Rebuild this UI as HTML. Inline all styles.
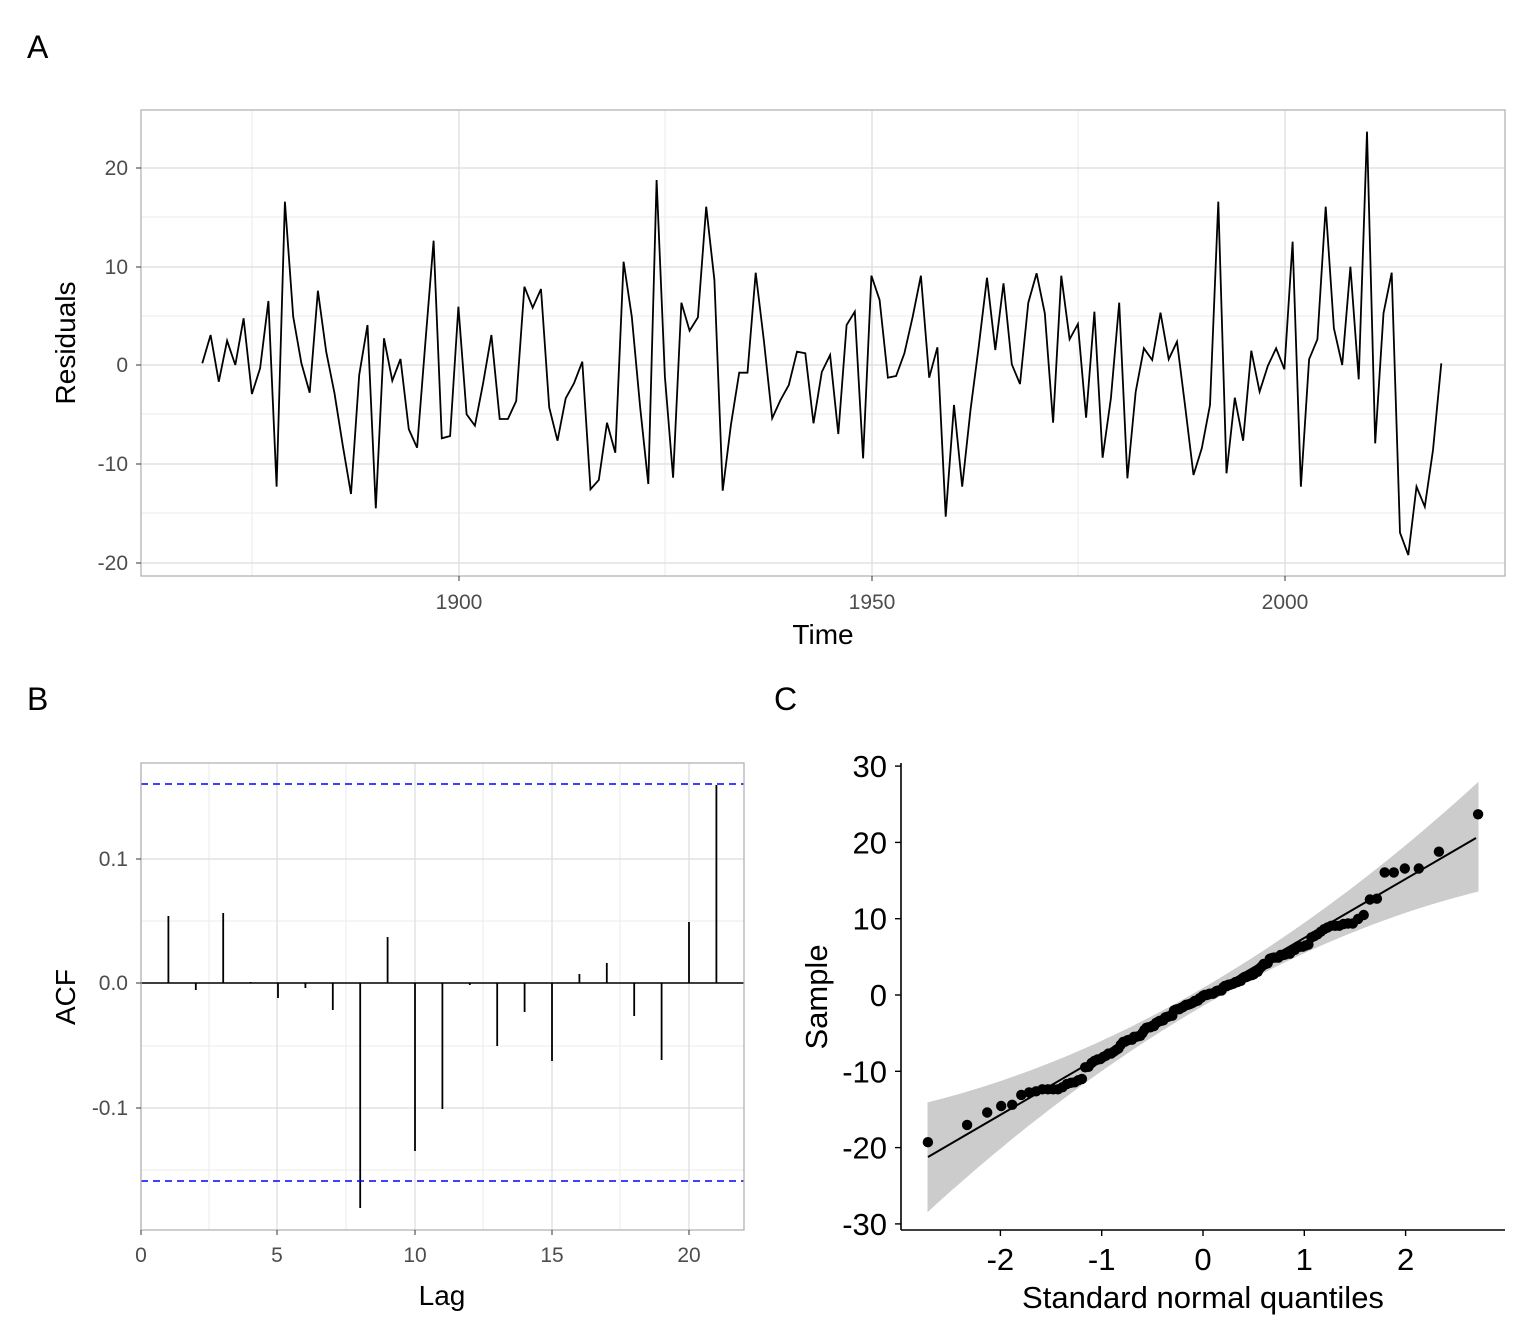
<!DOCTYPE html>
<html><head><meta charset="utf-8"><style>
html,body{margin:0;padding:0;background:#fff}
svg{display:block;font-family:"Liberation Sans",Arial,sans-serif}
</style></head><body>
<svg id="s" width="1536" height="1344" viewBox="0 0 1536 1344" xmlns="http://www.w3.org/2000/svg">
<rect width="1536" height="1344" fill="#fff"/>
<text x="27" y="58" font-size="32">A</text>
<text x="27" y="710" font-size="32">B</text>
<text x="774" y="710" font-size="32">C</text>
<g id="A"></g><g id="B"></g><g id="C"></g>
</svg>
<script>
const NS="http://www.w3.org/2000/svg";
function el(p,t,a,txt){const e=document.createElementNS(NS,t);for(const k in a)e.setAttribute(k,a[k]);if(txt!==undefined)e.textContent=txt;p.appendChild(e);return e;}
const A=document.getElementById('A');
const ys=[363.3,335,381.7,340.7,365,318.3,394,368.3,301,486.7,201.7,316.7,363.3,392.7,290.7,351.7,393.3,445,494,375,325,508.3,338.3,380.7,359,429.3,447.7,343.3,240.7,438.3,436,306.7,414.3,425.7,383.3,335,419,419,
401,286.7,307.7,289,407.3,440.7,398.3,383.3,361.7,489.3,480,422.7,452.7,261.7,316.7,406.7,484,180,376.7,477.7,302.7,330.7,317.3,206.7,280,490.7,425,372.7,372.7,272.7,341.7,418.3,400,385,351.7,353.3,423.3,372,
355,434,325,311.7,458.3,275.7,300,377.7,376,353.3,316.7,275.7,377.7,347.3,516.7,405,486.7,410,346.7,277.7,350,283.3,364.3,384,302.7,273.3,313.3,422.7,275.7,339.3,324,417.7,311.7,457.7,398.3,302.7,478.3,
391.7,348.3,360,312.7,359.3,341.7,406.7,475,448.3,405,201.7,473.3,397.7,440.7,350.7,391.7,366,348.3,369.3,241.7,486.7,359.3,339.3,206.7,328.3,365,266.7,379.3,131.7,443.3,313.3,272.7,532.7,555,486.7,506.7,450,363.3];
[217,316,414,513].forEach(y=>el(A,'line',{x1:141,x2:1505,y1:y,y2:y,stroke:'#ebebeb','stroke-width':1}));
[252,665,1078].forEach(x=>el(A,'line',{x1:x,x2:x,y1:110,y2:576,stroke:'#ebebeb','stroke-width':1}));
[168,267,365,464,563].forEach(y=>el(A,'line',{x1:141,x2:1505,y1:y,y2:y,stroke:'#dcdcdc','stroke-width':1.2}));
[459,872,1285].forEach(x=>el(A,'line',{x1:x,x2:x,y1:110,y2:576,stroke:'#dcdcdc','stroke-width':1.2}));
el(A,'polyline',{points:ys.map((y,i)=>(202.3+i*8.26).toFixed(1)+','+y).join(' '),fill:'none',stroke:'#000','stroke-width':1.8});
el(A,'rect',{x:141,y:110,width:1364,height:466,fill:'none',stroke:'#b3b3b3','stroke-width':1.3});
[[168,'20'],[267,'10'],[365,'0'],[464,'-10'],[563,'-20']].forEach(([y,t])=>{el(A,'text',{x:128,y:y+7,'font-size':21,fill:'#4d4d4d','text-anchor':'end'},t);el(A,'line',{x1:136,x2:141,y1:y,y2:y,stroke:'#333'});});
[[459,'1900'],[872,'1950'],[1285,'2000']].forEach(([x,t])=>{el(A,'text',{x:x,y:609,'font-size':21,fill:'#4d4d4d','text-anchor':'middle'},t);el(A,'line',{x1:x,x2:x,y1:576,y2:581,stroke:'#333'});});
el(A,'text',{x:823,y:644,'font-size':28,'text-anchor':'middle'},'Time');
el(A,'text',{x:0,y:0,'font-size':28,'text-anchor':'middle',transform:'translate(75,343) rotate(-90)'},'Residuals');
const B=document.getElementById('B');
[921,1046,1170].forEach(y=>el(B,'line',{x1:141,x2:744,y1:y,y2:y,stroke:'#ebebeb'}));
[209,346,483,620].forEach(x=>el(B,'line',{x1:x,x2:x,y1:763,y2:1230,stroke:'#ebebeb'}));
[859,983,1108].forEach(y=>el(B,'line',{x1:141,x2:744,y1:y,y2:y,stroke:'#dcdcdc','stroke-width':1.2}));
[141,277,415,552,689].forEach(x=>el(B,'line',{x1:x,x2:x,y1:763,y2:1230,stroke:'#dcdcdc','stroke-width':1.2}));
el(B,'line',{x1:141,x2:744,y1:983,y2:983,stroke:'#000','stroke-width':1.6});
const acf=[916,990,913,982,998,988,1010,1208,937,1151,1109,985,1046,1012,1061,974,963,1016,1060,922,785];
acf.forEach((y,i)=>{const x=141+(i+1)*27.4;el(B,'line',{x1:x,x2:x,y1:983,y2:y,stroke:'#000','stroke-width':1.8});});
[784,1181].forEach(y=>el(B,'line',{x1:141,x2:744,y1:y,y2:y,stroke:'#0000ff','stroke-width':1.6,'stroke-dasharray':'7,5'}));
el(B,'rect',{x:141,y:763,width:603,height:467,fill:'none',stroke:'#b3b3b3','stroke-width':1.3});
[[859,'0.1'],[983,'0.0'],[1108,'-0.1']].forEach(([y,t])=>{el(B,'text',{x:128,y:y+7,'font-size':21,fill:'#4d4d4d','text-anchor':'end'},t);el(B,'line',{x1:136,x2:141,y1:y,y2:y,stroke:'#333'});});
[[141,'0'],[277,'5'],[415,'10'],[552,'15'],[689,'20']].forEach(([x,t])=>{el(B,'text',{x:x,y:1262,'font-size':21,fill:'#4d4d4d','text-anchor':'middle'},t);el(B,'line',{x1:x,x2:x,y1:1230,y2:1235,stroke:'#333'});});
el(B,'text',{x:442,y:1305,'font-size':28,'text-anchor':'middle'},'Lag');
el(B,'text',{x:0,y:0,'font-size':28,'text-anchor':'middle',transform:'translate(75,997) rotate(-90)'},'ACF');
const C=document.getElementById('C');
function qnorm(p){const a=[-39.69683028665376,220.9460984245205,-275.9285104469687,138.357751867269,-30.66479806614716,2.506628277459239],b=[-54.47609879822406,161.5858368580409,-155.6989798598866,66.80131188771972,-13.28068155288572],c=[-0.007784894002430293,-0.3223964580411365,-2.400758277161838,-2.549732539343734,4.374664141464968,2.938163982698783],d=[0.007784695709041462,0.3224671290700398,2.445134137142996,3.754408661907416];const pl=0.02425;let q,r;if(p<pl){q=Math.sqrt(-2*Math.log(p));return(((((c[0]*q+c[1])*q+c[2])*q+c[3])*q+c[4])*q+c[5])/((((d[0]*q+d[1])*q+d[2])*q+d[3])*q+1);}if(p>1-pl){q=Math.sqrt(-2*Math.log(1-p));return-(((((c[0]*q+c[1])*q+c[2])*q+c[3])*q+c[4])*q+c[5])/((((d[0]*q+d[1])*q+d[2])*q+d[3])*q+1);}q=p-0.5;r=q*q;return(((((a[0]*r+a[1])*r+a[2])*r+a[3])*r+a[4])*r+a[5])*q/(((((b[0]*r+b[1])*r+b[2])*r+b[3])*r+b[4])*r+1);}
const X=q=>1203+q*101.3, Y=v=>995-v*7.63;
const lineY=x=>1157-(x-928)*0.582;
let up=[],lo=[];
for(let q=-2.72;q<=2.72001;q+=0.08){const x=X(q);const hw=9+6.2*q*q;up.push(x.toFixed(1)+','+(lineY(x)-hw).toFixed(1));lo.unshift(x.toFixed(1)+','+(lineY(x)+hw).toFixed(1));}
el(C,'polygon',{points:up.concat(lo).join(' '),fill:'#cccccc'});
el(C,'line',{x1:928,y1:1157,x2:1476,y2:838,stroke:'#000','stroke-width':2});
const vals=ys.map(y=>(365-y)/9.85).sort((a,b)=>a-b);const n=vals.length;
vals.forEach((v,i)=>{const q=qnorm((i+1-0.5)/n);el(C,'circle',{cx:X(q).toFixed(1),cy:Y(v).toFixed(1),r:5.2,fill:'#000'});});
el(C,'line',{x1:901,x2:901,y1:763,y2:1230,stroke:'#000','stroke-width':1.6});
el(C,'line',{x1:901,x2:1505,y1:1230,y2:1230,stroke:'#000','stroke-width':1.6});
[30,20,10,0,-10,-20,-30].forEach(v=>{const y=Y(v);el(C,'line',{x1:895,x2:901,y1:y,y2:y,stroke:'#000','stroke-width':1.4});el(C,'text',{x:887,y:y+11,'font-size':31,'text-anchor':'end'},String(v));});
[-2,-1,0,1,2].forEach(q=>{const x=X(q);el(C,'line',{x1:x,x2:x,y1:1230,y2:1236,stroke:'#000','stroke-width':1.4});el(C,'text',{x:x,y:1270,'font-size':31,'text-anchor':'middle'},String(q));});
el(C,'text',{x:1203,y:1308,'font-size':31,'text-anchor':'middle'},'Standard normal quantiles');
el(C,'text',{x:0,y:0,'font-size':31,'text-anchor':'middle',transform:'translate(827,997) rotate(-90)'},'Sample');
</script>
</body></html>
